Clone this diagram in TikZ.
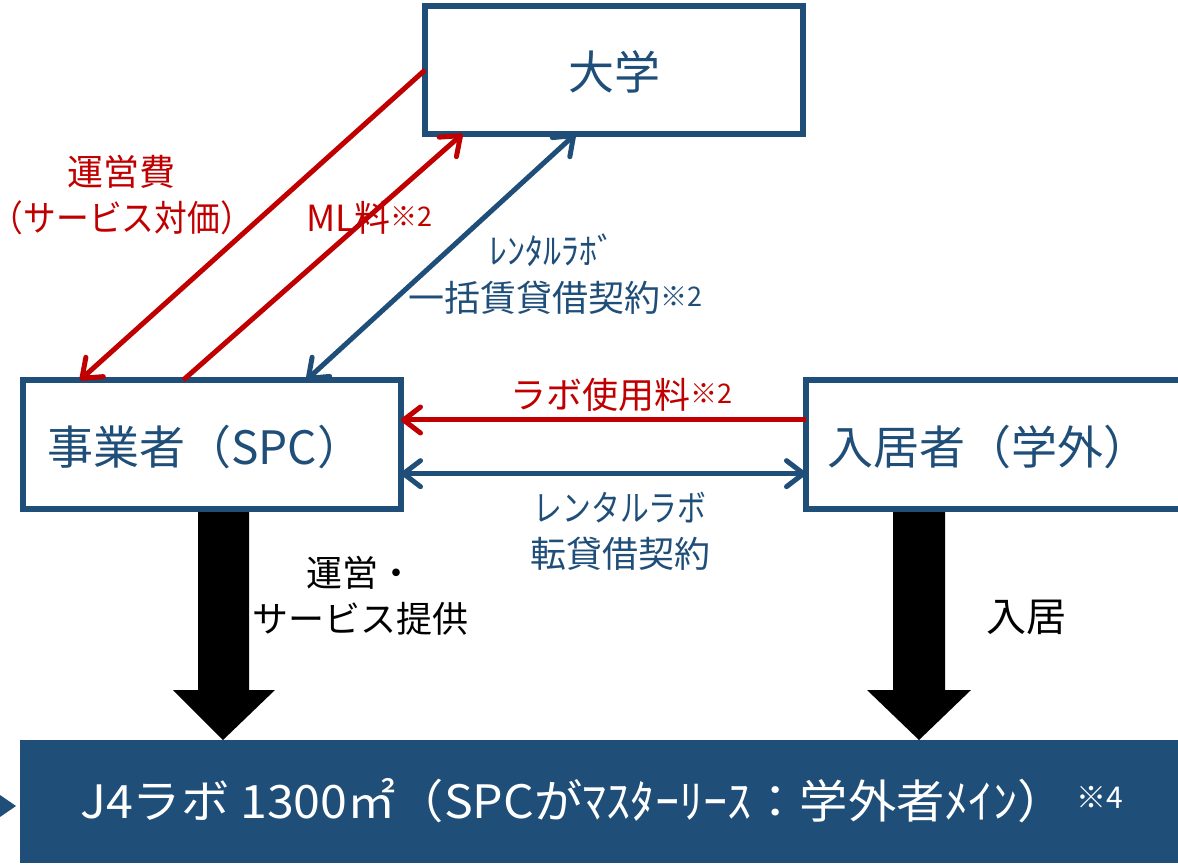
\documentclass[tikz,border=0pt]{standalone}
\usepackage{fontspec}
\setmainfont{Noto Sans CJK JP}
\usetikzlibrary{arrows.meta,calc}
\definecolor{navy}{RGB}{31,78,121}
\definecolor{dred}{RGB}{192,0,0}
\tikzset{
  box/.style={draw=navy, line width=6pt, fill=white, inner sep=0pt, outer sep=0pt},
  boxtext/.style={text=navy, font=\fontsize{46}{52}\selectfont, inner sep=0pt},
  lbl/.style={font=\fontsize{36}{46}\selectfont, inner sep=0pt, align=center},
  redarrow/.style={draw=dred, line width=5pt, -{Straight Barb[length=17pt,width=26pt,round]}},
  bluedouble/.style={draw=navy, line width=5pt, {Straight Barb[length=17pt,width=26pt,round]}-{Straight Barb[length=17pt,width=26pt,round]}},
}
\newcommand{\nt}[1]{{\fontsize{27}{27}\selectfont\raisebox{5pt}{#1}}}
\begin{document}
\begin{tikzpicture}[x=1pt,y=-1pt]
\useasboundingbox (0,0) rectangle (1178,865);
\clip (0,0) rectangle (1178,865);
% boxes
\node[box, minimum width=378pt, minimum height=128pt] (univ) at (614,70) {};
\node[boxtext] (univt) at (614,72) {大学};
\node[box, minimum width=378pt, minimum height=129pt] (spc) at (212,444.5) {};
\node[boxtext, anchor=west] (spct) at (47,447) {事業者（SPC）};
\node[box, minimum width=384pt, minimum height=129pt] (res) at (998,444.5) {};
\node[boxtext, anchor=west] (rest) at (827,447) {入居者（学外）};
% bottom bar
\node[fill=navy, minimum width=1180pt, minimum height=123pt, inner sep=0pt, outer sep=0pt, anchor=north west] (bar) at (20,740) {};
\node[text=white, font=\fontsize{46}{52}\selectfont, inner sep=0pt, anchor=west] (bart) at (80,801) {\scalebox{1.05}[1]{J4ラボ 1300㎡（SPCがﾏｽﾀｰﾘｰｽ：学外者ﾒｲﾝ）}};
\node[text=white, font=\fontsize{30}{30}\selectfont, inner sep=0pt, anchor=west] (bar4) at (1076,797) {※4};
\fill[navy] (0,795) -- (16,806) -- (0,817) -- cycle;
% diagonal connectors
\coordinate (spcA) at ($(spc.north west)!0.151!(spc.north east)$);
\coordinate (spcB) at ($(spc.north west)!0.424!(spc.north east)$);
\coordinate (spcC) at ($(spc.north west)!0.750!(spc.north east)$);
\coordinate (univB) at ($(univ.south west)!0.099!(univ.south east)$);
\coordinate (univC) at ($(univ.south west)!0.398!(univ.south east)$);
\draw[redarrow] (univ.west) -- (spcA);
\draw[redarrow] (spcB) -- (univB);
\draw[bluedouble] (univC) -- (spcC);
% horizontal connectors
\coordinate (resA) at ($(res.north west)!0.31!(res.south west)$);
\coordinate (resB) at ($(res.north west)!0.726!(res.south west)$);
\draw[redarrow] (resA) -- (resA -| spc.east);
\draw[bluedouble] (resB -| spc.east) -- (resB);
% block arrows
\fill[black] (198,512) -- (249,512) -- (249,690) -- (275,690) -- (223,740) -- (173,690) -- (198,690) -- cycle;
\fill[black] (893,512) -- (945,512) -- (945,690) -- (971,690) -- (919,740) -- (867,690) -- (893,690) -- cycle;
% labels
\node[lbl, text=dred] (l1) at (122,195) {運営費\\\scalebox{0.91}[1]{（サービス対価）}};
\node[lbl, text=dred, anchor=west] (l2) at (306,218) {ML料\nt{※2}};
\node[lbl, text=navy] (l3) at (552,250) {ﾚﾝﾀﾙﾗﾎﾞ};
\node[lbl, text=navy, anchor=west] (l4) at (408,298) {一括賃貸借契約\nt{※2}};
\node[lbl, text=dred, anchor=west] (l5) at (510,395) {ラボ使用料\nt{※2}};
\node[lbl, text=navy] (l6) at (620,531) {\scalebox{0.8}[1]{レンタルラボ}\\転貸借契約};
\node[lbl, text=black] (l7) at (360,596) {運営・\\サービス提供};
\node[lbl, text=black, font=\fontsize{40}{46}\selectfont] (l8) at (1026,617) {入居};
\end{tikzpicture}
\end{document}
